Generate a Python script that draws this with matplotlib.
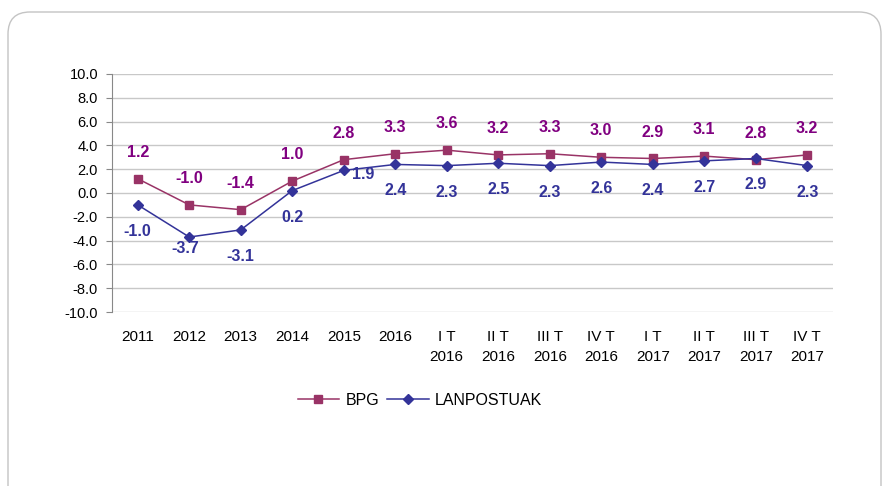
"""Recreate the BPG / LANPOSTUAK growth line chart."""

import matplotlib

matplotlib.use("Agg")
import matplotlib.pyplot as plt
from matplotlib.patches import FancyBboxPatch

categories = [
    "2011", "2012", "2013", "2014", "2015", "2016",
    "I T\n2016", "II T\n2016", "III T\n2016", "IV T\n2016",
    "I T\n2017", "II T\n2017", "III T\n2017", "IV T\n2017",
]
bpg = [1.2, -1.0, -1.4, 1.0, 2.8, 3.3, 3.6, 3.2, 3.3, 3.0, 2.9, 3.1, 2.8, 3.2]
lanpostuak = [-1.0, -3.7, -3.1, 0.2, 1.9, 2.4, 2.3, 2.5, 2.3, 2.6, 2.4, 2.7, 2.9, 2.3]
y_ticks = [-10, -8, -6, -4, -2, 0, 2, 4, 6, 8, 10]

BPG_LINE = "#993366"
BPG_TEXT = "#800080"
LAN_LINE = "#333399"
GRID = "#c8c8c8"

plt.rcParams["font.family"] = ["Liberation Sans", "DejaVu Sans"]

fig = plt.figure(figsize=(8.82, 4.86), dpi=100)
W, H = 882, 486

# rounded outer frame (bottom runs off the picture)
frame = FancyBboxPatch(
    (8 / W, -0.1), (873 / W), 1 - 12 / H + 0.1,
    boxstyle="round,pad=0,rounding_size=0.025",
    transform=fig.transFigure, facecolor="white", edgecolor="#c4c4c4",
    lw=1.0, mutation_aspect=W / H, zorder=-5,
)
fig.patches.append(frame)

ax = fig.add_axes([112 / W, 1 - 312 / H, (833 - 112) / W, (312 - 74) / H])
ax.set_zorder(2)
ax.set_facecolor("none")

x = list(range(len(categories)))
ax.plot(x, bpg, color=BPG_LINE, lw=1.1, marker="s", ms=6, label="BPG", zorder=3)
ax.plot(x, lanpostuak, color=LAN_LINE, lw=1.1, marker="D", ms=5.5,
        label="LANPOSTUAK", zorder=4)

ax.set_xlim(-0.5, len(categories) - 0.5)
ax.set_ylim(-10, 10)
ax.set_yticks(y_ticks)
ax.set_yticklabels([f"{v:.1f}" for v in y_ticks], fontsize=10.5)
ax.set_xticks(x)
ax.set_xticklabels(categories, fontsize=11, linespacing=1.55)
ax.tick_params(axis="x", length=0, pad=13)
ax.tick_params(axis="y", length=4, color="#888888", pad=6)
ax.grid(axis="y", color=GRID, lw=1.0)
ax.set_axisbelow(True)
for side in ("top", "right", "bottom"):
    ax.spines[side].set_visible(False)
ax.spines["left"].set_color("#888888")

label_kw = dict(ha="center", va="center", fontsize=11.5, fontweight="bold")
for i, v in enumerate(bpg):
    ax.annotate(f"{v:.1f}", (i, v), xytext=(0, 19), textcoords="offset points",
                color=BPG_TEXT, **label_kw)
for i, v in enumerate(lanpostuak):
    off = (0, -19)
    if i == 1:
        off = (-3, -8)
    elif i == 4:
        off = (14, -3)
    ax.annotate(f"{v:.1f}", (i, v), xytext=off, textcoords="offset points",
                color=LAN_LINE, **label_kw)

fig.legend(loc="center", bbox_to_anchor=(420 / W, 1 - 400 / H), ncol=2,
           frameon=False, fontsize=11.5, handlelength=2.6, columnspacing=0.5,
           handletextpad=0.4)

fig.savefig("out.png", dpi=100)
